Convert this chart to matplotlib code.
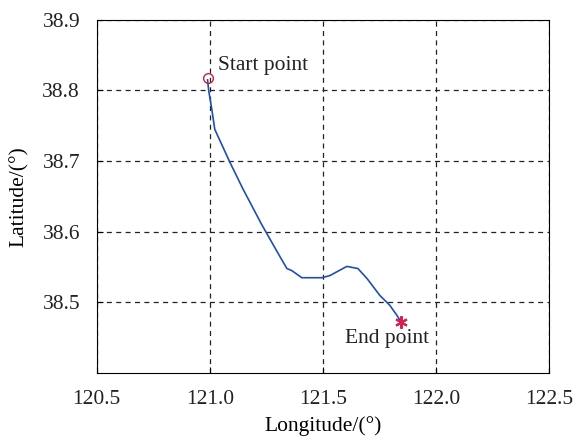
import matplotlib
matplotlib.use("Agg")
import matplotlib.pyplot as plt

# trajectory
lon = [120.990, 120.995, 121.009, 121.022, 121.088, 121.146, 121.230, 121.310,
       121.341, 121.363, 121.407, 121.496, 121.531, 121.606, 121.655, 121.695,
       121.752, 121.796, 121.827, 121.841]
lat = [38.815, 38.800, 38.773, 38.745, 38.699, 38.661, 38.610, 38.565,
       38.548, 38.545, 38.535, 38.535, 38.538, 38.551, 38.548, 38.534,
       38.510, 38.496, 38.482, 38.475]
start = (120.990, 38.818)
end = (121.845, 38.473)

xticks = [120.5, 121.0, 121.5, 122.0, 122.5]
yticks = [38.5, 38.6, 38.7, 38.8, 38.9]

plt.rcParams['font.family'] = ['Liberation Serif', 'DejaVu Serif']
plt.rcParams['font.size'] = 15.5
plt.rcParams['text.color'] = '#222222'

fig = plt.figure(figsize=(5.76, 4.41), dpi=100)
ax = fig.add_axes([0.168, 0.154, 0.785, 0.801])

ax.plot(lon, lat, color='#1f4fb0', lw=1.2)
ax.plot(*start, marker='o', ms=7, mfc='none', mec='#c8203c', mew=1.0)
ax.plot(*end, marker=(6, 2, 0), ms=9, color='#d8204a', mew=1.5)

ax.text(121.035, 38.836, 'Start point', va='center', ha='left')
ax.text(121.597, 38.449, 'End point', va='center', ha='left')

ax.set_xlim(120.5, 122.5)
ax.set_ylim(38.4, 38.9)
ax.set_xticks(xticks)
ax.set_yticks(yticks)
ax.set_xticklabels([f'{v:.1f}' for v in xticks])
ax.set_yticklabels([f'{v:.1f}' for v in yticks])
ax.tick_params(direction='in', length=4, labelcolor='#222222')
ax.tick_params(axis='x', pad=12)
ax.tick_params(axis='y', pad=12)
ax.grid(True, color='#222222', ls=(0, (4, 3.5)), lw=0.9)

ax.set_xlabel('Longitude/(°)', labelpad=5)
ax.set_ylabel('Latitude/(°)', labelpad=10)

fig.savefig('out.png', dpi=100)
